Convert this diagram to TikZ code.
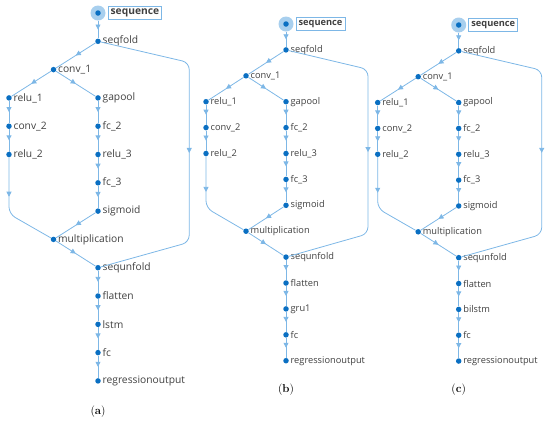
\documentclass[tikz,border=0pt]{standalone}
\usepackage{fontspec}
\usetikzlibrary{arrows.meta,positioning,decorations.markings}
\newfontfamily\netfont{Open Sans}
\definecolor{edgeblue}{HTML}{7DB7E6}
\definecolor{dotblue}{HTML}{0A6FC2}
\definecolor{haloblue}{HTML}{A8CFEE}
\definecolor{labelgray}{HTML}{404040}

\begin{document}
\begin{tikzpicture}[
      x=1bp, y=-1bp,
      dotnode/.style={circle, fill=dotblue, inner sep=0pt, minimum size=5.5bp},
      halo/.style={circle, fill=haloblue, inner sep=0pt, minimum size=15bp},
      lbl/.style={text=labelgray, inner sep=1.5bp},
      inbox/.style={draw=edgeblue, fill=white, line width=0.8bp,
                    inner sep=2.5bp, text=labelgray},
      conn/.style={edgeblue, draw, line width=0.8bp, rounded corners=7bp,
                   postaction={decorate},
                   decoration={markings, mark=at position #1 with
                     {\arrow{Triangle[length=5bp, width=5bp]}}}},
      conn/.default=0.5,
      captext/.style={text=black, font=\rmfamily\fontsize{11.5}{13}\selectfont}
  ]

    \useasboundingbox (0,0) rectangle (550,423);

    % ---- one panel per network ----
    \foreach \px/\py/\ux/\uy/\fs/\rnn/\pname in
        {98/13/44.5bp/28.3bp/10.3/lstm/a,
         286/24/40bp/25.9bp/9.3/gru1/b,
         458.7/25/40.5bp/25.85bp/9.3/bilstm/c} {
    \begin{scope}[shift={(\px,\py)}, x=\ux, y=-\uy, name prefix=\pname-,
        every node/.append style={font=\netfont\fontsize{\fs}{\fs}\selectfont}]

      % ---- input ----
      \node[halo] (halo) at (0,0) {};
      \node[dotnode] (sequence) at (0,0) {};
      \node[inbox, anchor=west] (seqbox) at ([xshift=2bp]halo.east) {\bfseries sequence};

      % ---- layers ----
      \node[dotnode, label={[lbl]right:seqfold}] (seqfold) at (0,1) {};
      \node[dotnode, label={[lbl]right:conv\_1}] (conv1) at (-1,2) {};
      \foreach \n/\t [count=\r from 3] in {relu1/relu\_1, conv2/conv\_2, relu2/relu\_2}
        \node[dotnode, label={[lbl]right:\t}] (\n) at (-2,\r) {};
      \foreach \n/\t [count=\r from 3] in {gapool/gapool, fc2/fc\_2, relu3/relu\_3,
                                           fc3/fc\_3, sigmoid/sigmoid}
        \node[dotnode, label={[lbl]right:\t}] (\n) at (0,\r) {};
      \node[dotnode, label={[lbl]right:multiplication}] (multiplication) at (-1,8) {};
      \foreach \n/\t [count=\r from 9] in {sequnfold/sequnfold, flatten/flatten,
                                           rnn/\rnn, fc/fc, regout/regressionoutput}
        \node[dotnode, label={[lbl]right:\t}] (\n) at (0,\r) {};

      % ---- connectors ----
      \draw[conn] (halo) -- (seqfold);
      \draw[conn] (seqfold) -- (conv1);
      \draw[conn] (conv1) -- (relu1);
      \draw[conn] (conv1) -- (gapool);
      \draw[conn] (relu1) -- (conv2);
      \draw[conn] (conv2) -- (relu2);
      \draw[conn] (gapool) -- (fc2);
      \draw[conn] (fc2) -- (relu3);
      \draw[conn] (relu3) -- (fc3);
      \draw[conn] (fc3) -- (sigmoid);
      \coordinate (lbend) at (-2,7.1);
      \draw[conn=0.38] (relu2) -- (lbend) -- (multiplication);
      \draw[conn] (sigmoid) -- (multiplication);
      \draw[conn] (multiplication) -- (sequnfold);
      % skip path
      \coordinate (rtop) at (2.05,1.75);
      \coordinate (rbot) at (2.05,8.1);
      \draw[conn] (seqfold) -- (rtop) -- (rbot) -- (sequnfold);
      \draw[conn] (sequnfold) -- (flatten);
      \draw[conn] (flatten) -- (rnn);
      \draw[conn] (rnn) -- (fc);
      \draw[conn] (fc) -- (regout);

      % ---- caption ----
      \node[captext] (caption) at (0,14.1) {(\textbf{\pname})};
    \end{scope}
    }

  \end{tikzpicture}
\end{document}
